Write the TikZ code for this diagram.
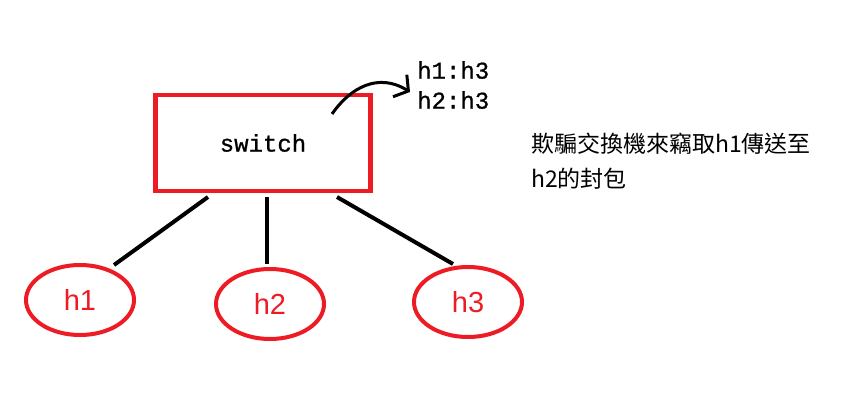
\documentclass[tikz,border=0pt]{standalone}
\usepackage{fontspec}
\setmainfont{Liberation Sans}
\newfontfamily\monof[FakeBold=1]{Liberation Mono}
\newfontfamily\cjkf{Noto Sans CJK TC}
\usetikzlibrary{arrows.meta,shapes.geometric}
\definecolor{pred}{HTML}{ED1C24}
\begin{document}
\begin{tikzpicture}[x=1pt,y=-1pt,
  host/.style={draw=pred,line width=4pt,ellipse,minimum width=108pt,minimum height=70pt,inner sep=0pt,text=pred,font=\fontsize{29}{29}\selectfont},
  link/.style={line width=4pt,black},
  swbox/.style={draw=pred,line width=4.5pt,minimum width=215pt,minimum height=96pt,inner sep=0pt,font=\monof\fontsize{24}{24}\selectfont},
  mono/.style={font=\monof\fontsize{24}{30}\selectfont,align=left,inner sep=0pt}]
\useasboundingbox (0,0) rectangle (845,407);
\node[swbox] (sw) at (263,143) {switch};
\node[host] (h1) at (80,300) {h1};
\node[host] (h2) at (270,304) {h2};
\node[host] (h3) at (468,302) {h3};
\coordinate (a1) at (208,197); \coordinate (b1) at (114,265);
\coordinate (a2) at (267,197); \coordinate (b2) at (267,264);
\coordinate (a3) at (337,197); \coordinate (b3) at (453,264);
\draw[link] (a1) -- (b1);
\draw[link] (a2) -- (b2);
\draw[link] (a3) -- (b3);
\node[mono,anchor=north west] (tbl) at (417,61) {h1:h3\\h2:h3};
\coordinate (arrs) at (332,114);
\coordinate (arre) at (410,92);
\draw[line width=3pt,-{Straight Barb[length=10pt,width=26pt]}] (arrs) .. controls (350,88) and (378,72) .. (arre);
\node[font=\cjkf\fontsize{23}{35}\selectfont,align=left,anchor=north west,inner sep=0pt] (note) at (531,133) {欺騙交換機來竊取h1傳送至\\h2的封包};
\end{tikzpicture}
\end{document}
